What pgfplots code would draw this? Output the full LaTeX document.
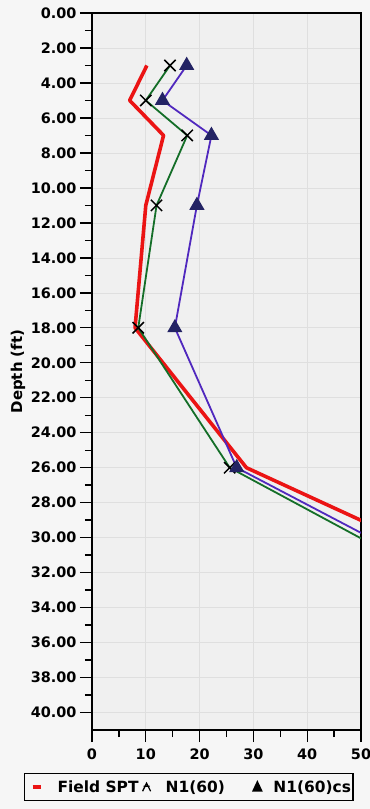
\documentclass[border=0pt]{standalone}
\usepackage{fontspec}
\setmainfont{DejaVu Sans}
\usepackage{pgfplots}
\pgfplotsset{compat=1.18}
\definecolor{spt}{RGB}{235,20,20}
\definecolor{nsix}{RGB}{20,110,40}
\definecolor{ncs}{RGB}{80,40,190}
\definecolor{tri}{RGB}{35,35,100}
\definecolor{bg}{RGB}{246,246,246}
\definecolor{plotbg}{RGB}{240,240,240}
\begin{document}
\begin{tikzpicture}
\fill[bg] (-92bp,-79bp) rectangle (278bp,730bp);
\begin{axis}[
 scale only axis, width=269bp, height=717bp,
 xmin=0, xmax=50, ymin=0, ymax=41,
 y dir=reverse,
 axis background/.style={fill=plotbg},
 xtick={0,10,...,50}, ytick={0,2,...,40},
 minor x tick num=1, minor y tick num=1,
 tick align=outside, major tick length=12bp, minor tick length=7bp,
 xtick pos=left, ytick pos=left,
 xmajorgrids, ymajorgrids,
 major grid style={gray!25, line width=0.6pt},
 axis line style={line width=1.4pt},
 every tick/.style={black, line width=1.4pt},
 yticklabel style={/pgf/number format/.cd, fixed, fixed zerofill, precision=2},
 xticklabel shift=3bp,
 /pgf/number format/assume math mode=true,
 ticklabel style={font=\fontsize{14.5}{17}\selectfont\bfseries},
 ylabel={Depth (ft)},
 ylabel style={font=\fontsize{15}{18}\selectfont\bfseries, at={(axis description cs:-0.275,0.5)}, anchor=center},
 legend columns=3,
 legend style={at={(axis description cs:-0.2528,-0.06)}, anchor=north west, draw=black, line width=1.2pt, fill=bg,
   font=\fontsize{15.5}{18}\selectfont\bfseries, inner xsep=0bp, inner ysep=5bp,
   nodes={inner sep=2bp},
   /tikz/every even column/.append style={column sep=0bp}},
]
\addplot[spt, line width=3.6pt, line join=round,
  legend image code/.code={\path[draw=none,fill=none] (0bp,0bp) -- (31bp,0bp); \draw[spt, line width=4bp] (8bp,0bp) -- (16bp,0bp);}]
  coordinates {(10.2,3) (7,5) (13.3,7) (10,11) (8,18) (28.7,26) (57,30)};
\addlegendentry{Field SPT}
\addplot[nsix, line width=1.8pt, mark=x, mark size=8bp, mark options={black, line width=1.5pt},
  legend image code/.code={\path[draw=none,fill=none] (0bp,0bp) -- (23bp,0bp); \draw[black, line width=1.3pt] (2bp,-4bp) -- (6bp,4bp) -- (10bp,-4bp) (3bp,1bp)--(9bp,1bp);}]
  coordinates {(14.5,3) (10,5) (17.7,7) (12,11) (8.6,18) (25.6,26) (55.8,31)};
\addlegendentry{N1(60)}
\addplot[ncs, line width=1.8pt, mark=triangle*, mark size=7bp, mark options={fill=tri, draw=tri},
  legend image code/.code={\path[draw=none,fill=none] (0bp,0bp) -- (44.5bp,0bp); \fill[black] (30.5bp,5bp) -- (26.5bp,-3.5bp) -- (34.5bp,-3.5bp) -- cycle;}]
  coordinates {(17.6,3) (13.1,5) (22.2,7) (19.5,11) (15.4,18) (26.9,26) (57.9,31)};
\addlegendentry{N1(60)cs\hspace{7bp}}
\end{axis}
\pgfresetboundingbox
\path[use as bounding box] (-92bp,-79bp) rectangle (278bp,730bp);
\end{tikzpicture}
\end{document}
